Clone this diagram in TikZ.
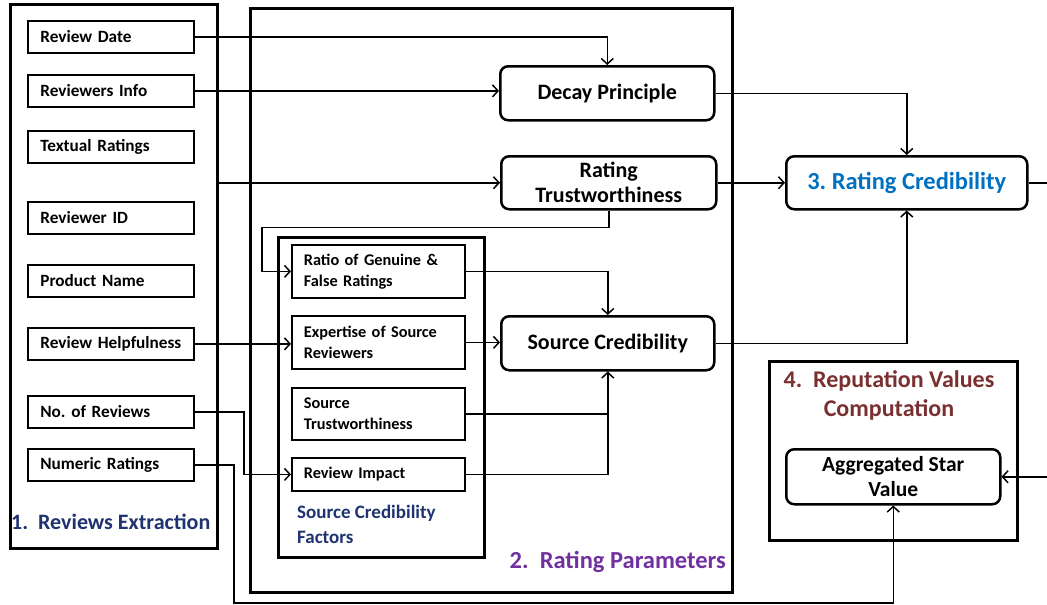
\documentclass[tikz,border=0pt]{standalone}
\usepackage{fontspec}
\setmainfont{Carlito}
\frenchspacing
\usetikzlibrary{arrows.meta}
\definecolor{dblue}{HTML}{1F3370}
\definecolor{lblue}{HTML}{0070C0}
\definecolor{purp}{HTML}{7030A0}
\definecolor{brwn}{HTML}{7A3030}
\begin{document}
\begin{tikzpicture}[x=1pt,y=-1pt,
  bigbox/.style={draw, line width=3pt, anchor=north west, inner sep=0pt},
  item/.style={draw, line width=1.8pt, anchor=north west, minimum width=166pt, minimum height=32pt,
    text width=141pt, inner xsep=12.5pt, inner ysep=0pt, align=left, font=\bfseries\fontsize{17.2}{18}\selectfont},
  factor/.style={draw, line width=1.8pt, anchor=north west, minimum width=173pt,
    text width=149pt, inner xsep=12pt, inner ysep=0pt, align=left, font=\bfseries\fontsize{16.3}{20.5}\selectfont},
  rbox/.style={draw, line width=2.5pt, rounded corners=8pt, anchor=north west, inner sep=0pt,
    align=center, font=\bfseries\fontsize{22}{25}\selectfont},
  conn/.style={line width=1.5pt, -{Straight Barb[length=5.5pt,width=12pt,line width=1.5pt]}},
  line/.style={line width=1.5pt},
]
\useasboundingbox (0,0) rectangle (1047,605);
\clip (0,0) rectangle (1047,605);

% big boxes
\node[bigbox, minimum width=207pt, minimum height=544pt] (ext) at (9,3) {};
\node[bigbox, minimum width=482pt, minimum height=584pt] (par) at (249,7) {};
\node[bigbox, minimum width=206pt, minimum height=320pt] (scf) at (277,236) {};
\node[bigbox, minimum width=248pt, minimum height=179pt] (rep) at (768,360) {};

% input items
\node[item] (rd)  at (27,20)  {Review Date};
\node[item] (ri)  at (27,74)  {Reviewers Info};
\node[item] (tr)  at (27,130) {Textual Ratings};
\node[item] (rid) at (27,201) {Reviewer ID};
\node[item] (pn)  at (27,264) {Product Name};
\node[item] (rh)  at (27,327) {Review Helpfulness};
\node[item] (nor) at (27,395) {No. of Reviews};
\node[item] (num) at (27,448) {Numeric Ratings};

% factors
\node[factor, minimum height=53pt] (ratio) at (291,244) {Ratio of Genuine \&\\False Ratings};
\node[factor, minimum height=53pt] (exp)   at (291,315) {Expertise of Source\\Reviewers};
\node[factor, minimum height=52pt] (st)    at (291,387) {Source\\Trustworthiness};
\node[factor, minimum height=33pt] (rimp)  at (291,457) {Review Impact};

% rounded boxes
\node[rbox, minimum width=214pt, minimum height=54pt] (dp) at (499,65)  {Decay Principle};
\node[rbox, minimum width=215pt, minimum height=53pt] (rt) at (500,155) {Rating\\Trustworthiness};
\node[rbox, minimum width=213pt, minimum height=54pt] (sc) at (500,315) {Source Credibility};
\node[rbox, minimum width=241pt, minimum height=53pt, text=lblue, font=\bfseries\fontsize{24.5}{27}\selectfont] (rc) at (785,155) {3. Rating Credibility};
\node[rbox, minimum width=214pt, minimum height=55pt, font=\bfseries\fontsize{21.5}{25}\selectfont] (asv) at (785,448) {Aggregated Star\\Value};

% labels
\node[anchor=west, inner sep=0pt, text=dblue, font=\bfseries\fontsize{22}{24}\selectfont] (lab1) at (11,522) {1.~ Reviews Extraction};
\node[anchor=west, inner sep=0pt, text=dblue, font=\bfseries\fontsize{19}{25}\selectfont, align=left] (labf) at (297,524.5) {Source Credibility\\Factors};
\node[anchor=east, inner sep=0pt, text=purp, font=\bfseries\fontsize{24.5}{26}\selectfont] (lab2) at (726,562) {2.~ Rating Parameters};
\node[inner sep=0pt, text=brwn, font=\bfseries\fontsize{24}{29}\selectfont, align=center] (lab4) at (889,395) {4.~ Reputation Values\\Computation};

% connectors
\draw[conn] (rd.east) -| (dp.north);
\draw[conn] (ri.east) -- (ri.east -| dp.west);
\draw[conn] (ext.east |- rt.west) -- (rt.west);
\draw[conn] (rt.south) -- ++(0,17) -| (262,260) |- (ratio.west);
\draw[conn] (rh.east) -- (rh.east -| exp.west);
\draw[conn] (nor.east) -- ++(49,0) |- (rimp.west);
\draw[conn] (num.east) -- ++(39,0) -- ++(0,138) -| (asv.south);
\draw[conn] (ratio.east) -| (sc.north);
\draw[conn] (exp.east) -- (exp.east -| sc.west);
\draw[conn] (st.east) -| (sc.south);
\draw[line] (rimp.east) -| (sc.south);
\draw[conn] (dp.east) -| (rc.north);
\draw[conn] (rt.east) -- (rt.east -| rc.west);
\draw[conn] (sc.east) -| (rc.south);
\draw[conn] (rc.east) -- ++(40,0) |- (asv.east);
\end{tikzpicture}
\end{document}
